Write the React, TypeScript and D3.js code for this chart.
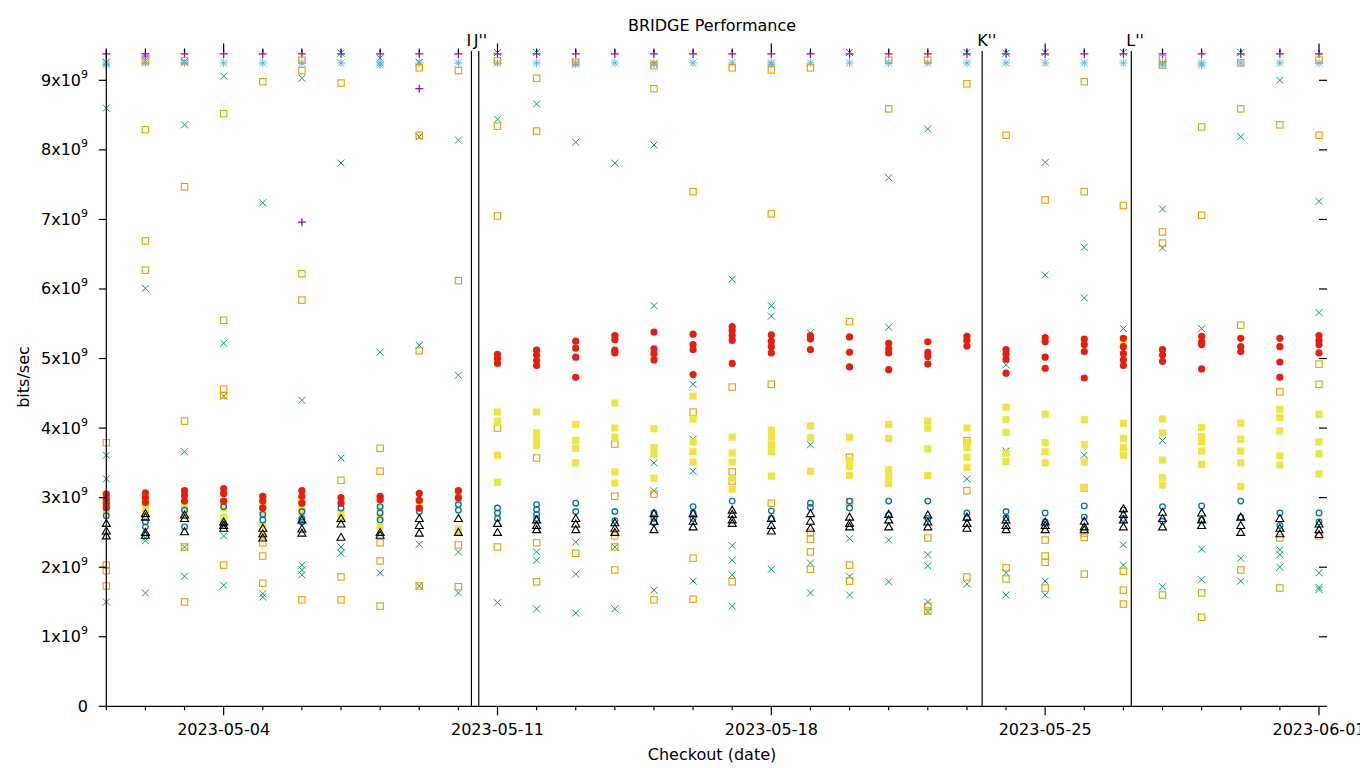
import React from 'react';
import * as d3 from 'd3';

// ---------- data (values in units of 1e9 bits/sec), one inner list per day 2023-05-01 .. 2023-06-01 ----------
const firstDay = '2023-05-01';
const lastDay = '2023-06-01';
const xTickLabels = ['2023-05-04', '2023-05-11', '2023-05-18', '2023-05-25', '2023-06-01'];
const yTickValues = [0, 1, 2, 3, 4, 5, 6, 7, 8, 9];
const eventNames = ['I', "J''", "K''", "L''"];
const eventTimes = ['2023-05-10T08:00', '2023-05-10T12:30', '2023-05-23T09:20', '2023-05-27T04:50'];

const purplePlus: number[][] = [
  [9.38], [9.38, 9.35], [9.38], [9.38], [9.38], [9.38, 6.96], [9.38], [9.38], [9.38, 8.88], [9.38],
  [9.38], [9.38], [9.38], [9.38], [9.38], [9.38], [9.38], [9.38], [9.38], [9.38],
  [9.38], [9.38], [9.38], [9.38], [9.38], [9.38], [9.38], [9.38], [9.38], [9.38], [9.38], [9.38],
];
const greenCross: number[][] = [
  [9.26, 8.6, 3.61, 3.27, 1.5], [9.28, 6.01, 2.42, 2.38, 1.63], [9.27, 8.36, 3.66, 2.29, 1.87], [9.06, 5.22, 4.46, 2.45, 1.74],
  [7.24, 1.62, 1.57], [9.03, 4.4, 2.03, 1.96, 1.89], [9.39, 7.81, 3.57, 2.29, 2.2], [9.32, 5.09, 1.92],
  [9.26, 8.19, 5.19, 2.33, 1.73], [8.14, 4.76, 2.22, 1.63], [9.4, 8.44, 1.49], [9.4, 8.66, 2.22, 2.1, 1.4],
  [8.11, 2.36, 1.9, 1.34], [7.81, 2.29, 1.4], [8.07, 5.76, 3.5, 3.1, 1.67], [4.63, 3.84, 3.38, 1.8],
  [6.14, 2.31, 2.1, 1.89, 1.44], [5.76, 5.61, 1.97], [5.37, 3.76, 2.06, 1.63], [9.4, 2.41, 1.87, 1.6],
  [7.6, 5.45, 2.39, 1.79], [8.3, 2.18, 2.02, 1.5, 1.36], [9.4, 3.27, 1.76], [9.39, 4.91, 3.67, 1.92, 1.6],
  [9.4, 7.82, 6.2, 1.8, 1.6], [6.6, 5.87, 3.61], [9.4, 5.43, 2.32, 2.03], [7.15, 6.59, 3.82, 1.72],
  [5.43, 2.26, 1.82], [9.4, 8.19, 2.13, 1.8], [9.0, 2.25, 2.18, 2.0], [7.26, 5.66, 1.92, 1.71, 1.68],
];
const blueStar: number[][] = [
  [9.25, 9.22], [9.25], [9.25], [9.25], [9.25], [9.25], [9.25], [9.25, 9.22], [9.25], [9.25],
  [9.25], [9.25], [9.25, 9.23], [9.25], [9.25, 9.23], [9.25], [9.25], [9.25, 9.23], [9.25], [9.25],
  [9.25], [9.25], [9.25], [9.25], [9.25], [9.25], [9.25], [9.25, 9.22], [9.25, 9.22], [9.25], [9.25], [9.25],
];
const orangeSquare: number[][] = [
  [3.79, 2.03, 1.95, 1.73], [9.28, 8.29, 6.69, 6.27], [9.28, 7.47, 4.1, 2.29, 1.5], [8.52, 5.55, 4.56, 4.47, 2.03],
  [8.98, 2.35, 2.16, 1.77], [9.29, 9.14, 6.22, 5.84, 1.53], [8.96, 3.25, 1.86, 1.53], [3.71, 3.38, 2.35, 2.09, 1.44],
  [9.18, 8.21, 5.11, 1.73], [9.14, 6.12, 2.32, 1.72], [9.28, 8.34, 7.05, 4.0, 2.29], [9.03, 8.27, 3.57, 2.35, 1.79],
  [9.26, 2.2], [3.77, 3.02, 2.45, 2.29, 1.96], [9.21, 8.88, 3.05, 1.53], [7.4, 4.23, 2.13, 1.54],
  [9.18, 4.59, 3.37, 3.24, 1.79], [9.15, 7.08, 4.63, 2.92], [9.18, 2.5, 2.4, 2.22, 1.97], [5.53, 3.58, 2.94, 2.03, 1.8],
  [9.29, 8.59], [9.29, 2.42, 1.44, 1.37], [8.95, 3.82, 3.1, 1.86], [8.21, 1.99, 1.83],
  [7.28, 2.39, 2.16, 2.07, 1.7], [8.98, 7.4, 3.14, 2.49, 2.43, 1.9], [7.2, 1.94, 1.67, 1.47], [9.31, 9.22, 6.82, 6.66, 1.6],
  [8.33, 7.06, 1.63, 1.28], [9.25, 8.59, 5.48, 1.96], [8.36, 4.52, 2.42, 1.7], [9.29, 8.21, 4.92, 4.63, 2.45],
];
const yellowSquare: number[][] = [
  [3.05, 2.95, 2.85, 2.78], [2.92, 2.85, 2.78], [2.95, 2.85, 2.76], [2.95, 2.85, 2.72, 2.6],
  [3.0, 2.9, 2.75, 2.6, 2.45], [2.98, 2.88, 2.8], [2.78, 2.7], [2.98, 2.85, 2.72, 2.58],
  [2.95, 2.85], [3.08, 2.96, 2.55, 2.5], [4.23, 4.1, 3.61, 3.22], [4.23, 3.93, 3.85, 3.75],
  [4.05, 3.82, 3.71, 3.5], [4.36, 4.0, 3.87, 3.37, 3.21], [3.99, 3.72, 3.62, 3.28], [4.46, 4.13, 3.8, 3.66, 3.51],
  [3.87, 3.64, 3.51, 3.27, 3.12], [3.97, 3.87, 3.76, 3.66, 3.31], [4.03, 3.86, 3.38], [3.87, 3.54, 3.45, 3.32],
  [4.05, 3.85, 3.4, 3.3, 3.2], [4.1, 4.0, 3.7, 3.32], [4.0, 3.8, 3.72, 3.58, 3.43], [4.3, 4.12, 3.94, 3.64, 3.52],
  [4.2, 3.79, 3.66, 3.5], [4.12, 3.76, 3.51, 3.15], [5.28, 5.2, 4.07, 3.85, 3.72, 3.61], [4.13, 3.93, 3.54, 3.29, 3.18],
  [4.01, 3.88, 3.8, 3.67, 3.48], [4.07, 3.84, 3.67, 3.5, 3.16], [4.27, 4.15, 3.96, 3.6, 3.47], [4.2, 3.8, 3.63, 3.34],
];
const blueCircle: number[][] = [
  [2.85, 2.74], [2.65, 2.58], [2.82, 2.58], [2.87, 2.62], [2.85, 2.76, 2.68], [2.8, 2.7, 2.65], [2.85], [2.87, 2.78, 2.68],
  [2.8], [2.9, 2.82], [2.85, 2.78, 2.7], [2.9, 2.83, 2.76, 2.7], [2.92, 2.8], [2.8, 2.67], [2.78, 2.7, 2.64], [2.87, 2.78, 2.7],
  [2.95], [2.81, 2.7], [2.92, 2.86], [2.95, 2.85], [2.95, 2.75], [2.95, 2.7], [2.78, 2.7], [2.8, 2.71],
  [2.78, 2.65], [2.88, 2.72], [2.82, 2.7], [2.87, 2.66], [2.88, 2.68], [2.95, 2.72], [2.78, 2.6], [2.78, 2.65],
];
const redCircle: number[][] = [
  [3.05, 2.98, 2.92, 2.86], [3.07, 3.0, 2.93], [3.1, 3.03, 2.95], [3.13, 3.06, 2.95], [3.02, 2.95, 2.85], [3.1, 3.02, 2.92],
  [3.0, 2.92], [3.02, 2.97], [3.06, 2.96, 2.85], [3.1, 3.0], [5.06, 5.0, 4.93], [5.12, 5.05, 4.97, 4.9],
  [5.25, 5.15, 5.02, 4.73], [5.33, 5.27, 5.12, 5.08], [5.38, 5.14, 5.07, 4.98], [5.35, 5.2, 5.13, 4.77],
  [5.46, 5.4, 5.33, 5.26, 4.93], [5.34, 5.25, 5.17, 5.08], [5.33, 5.28, 5.13], [5.31, 5.09, 4.88],
  [5.22, 5.14, 5.08, 4.84], [5.24, 5.09, 5.03, 4.92], [5.32, 5.26, 5.18], [5.13, 5.06, 4.99, 4.79],
  [5.3, 5.24, 5.02, 4.86], [5.28, 5.2, 5.1, 4.72], [5.29, 5.17, 5.07, 4.98, 4.9], [5.13, 5.05, 4.96],
  [5.32, 5.24, 5.2, 4.85], [5.29, 5.17, 5.1], [5.29, 5.17, 4.95, 4.73], [5.33, 5.26, 5.2, 5.08],
];
const blackTriangle: number[][] = [
  [2.63, 2.52, 2.45], [2.77, 2.72, 2.5, 2.46], [2.75, 2.7, 2.51], [2.65, 2.6, 2.56], [2.56, 2.48, 2.42], [2.68, 2.55, 2.49],
  [2.7, 2.62, 2.43], [2.5, 2.46], [2.7, 2.6, 2.49], [2.7, 2.5], [2.63, 2.5], [2.68, 2.6, 2.54],
  [2.7, 2.62, 2.54], [2.64, 2.56, 2.5], [2.77, 2.66, 2.54], [2.77, 2.66, 2.58], [2.82, 2.76, 2.68, 2.63], [2.7, 2.6, 2.52],
  [2.77, 2.66, 2.56], [2.72, 2.63, 2.58], [2.76, 2.68, 2.58], [2.75, 2.65, 2.58], [2.72, 2.63, 2.56], [2.68, 2.6, 2.54],
  [2.65, 2.6, 2.54], [2.66, 2.58, 2.54], [2.84, 2.76, 2.68, 2.58], [2.79, 2.7, 2.58], [2.78, 2.68, 2.6], [2.72, 2.6, 2.5],
  [2.7, 2.56, 2.48], [2.62, 2.54, 2.47],
];

type Shape = 'plus' | 'cross' | 'star' | 'osq' | 'fsq' | 'ocirc' | 'fcirc' | 'otri';
const seriesList: { color: string; shape: Shape; data: number[][] }[] = [
  { color: '#9400d3', shape: 'plus', data: purplePlus },
  { color: '#009e73', shape: 'cross', data: greenCross },
  { color: '#56b4e9', shape: 'star', data: blueStar },
  { color: '#e69f00', shape: 'osq', data: orangeSquare },
  { color: '#f0e442', shape: 'fsq', data: yellowSquare },
  { color: '#0072b2', shape: 'ocirc', data: blueCircle },
  { color: '#e51e10', shape: 'fcirc', data: redCircle },
  { color: '#000000', shape: 'otri', data: blackTriangle },
];

const W = 1360;
const H = 768;
const M = { left: 106.3, right: 1319, top: 52.5, bottom: 706.3 };
const FONT = 'DejaVu Sans, sans-serif';

function marker(shape: Shape, cx: number, cy: number, color: string, key: string) {
  const h = 3.5;
  switch (shape) {
    case 'plus':
      return <path key={key} d={`M${cx - 4},${cy}H${cx + 4}M${cx},${cy - 4}V${cy + 4}`} stroke={color} strokeWidth={1.2} fill="none" />;
    case 'cross':
      return <path key={key} d={`M${cx - h},${cy - h}L${cx + h},${cy + h}M${cx - h},${cy + h}L${cx + h},${cy - h}`} stroke={color} strokeWidth={1} fill="none" />;
    case 'star':
      return <path key={key} d={`M${cx - 4},${cy}H${cx + 4}M${cx},${cy - 4}V${cy + 4}M${cx - h},${cy - h}L${cx + h},${cy + h}M${cx - h},${cy + h}L${cx + h},${cy - h}`} stroke={color} strokeWidth={1} fill="none" />;
    case 'osq':
      return <rect key={key} x={cx - 3.2} y={cy - 3.2} width={6.4} height={6.4} stroke={color} strokeWidth={1.1} fill="none" />;
    case 'fsq':
      return <rect key={key} x={cx - 3.6} y={cy - 3.6} width={7.2} height={7.2} fill={color} />;
    case 'ocirc':
      return <circle key={key} cx={cx} cy={cy} r={2.8} stroke={color} strokeWidth={1.3} fill="none" />;
    case 'fcirc':
      return <circle key={key} cx={cx} cy={cy} r={3.6} fill={color} />;
    case 'otri':
      return <path key={key} d={`M${cx},${cy - 4}L${cx + 4},${cy + 3}L${cx - 4},${cy + 3}Z`} stroke={color} strokeWidth={1.1} fill="none" />;
  }
}

export default function App() {
  const parse = d3.utcParse('%Y-%m-%d');
  const parseT = d3.utcParse('%Y-%m-%dT%H:%M');
  const d0 = parse(firstDay) as Date;
  const d1 = parse(lastDay) as Date;
  const days = d3.utcDay.range(d0, d3.utcDay.offset(d1, 1));
  const x = d3.scaleUtc().domain([d0, d1]).range([M.left, M.right]);
  const y = d3.scaleLinear().domain([0, 9.4e9]).range([M.bottom, M.top]);
  const fmt = d3.utcFormat('%Y-%m-%d');
  const majorSet = new Set(xTickLabels);

  return (
    <svg width={W} height={H} style={{ position: 'absolute', left: 0, top: 0, background: '#fff' }} fontFamily={FONT}>
      <rect x={0} y={0} width={W} height={H} fill="#fff" />
      {/* points */}
      {seriesList.map((s, si) => (
        <g key={si}>
          {s.data.map((vals, di) =>
            vals.map((v, vi) => marker(s.shape, x(days[di]), y(v * 1e9), s.color, `${si}-${di}-${vi}`))
          )}
        </g>
      ))}
      {/* event lines */}
      {eventTimes.map((t, i) => {
        const xx = x(parseT(t) as Date);
        return (
          <g key={i}>
            <line x1={xx} x2={xx} y1={51} y2={M.bottom} stroke="#000" strokeWidth={1.2} />
            <text x={xx - 5} y={45.5} fontSize={16} fill="#000">{eventNames[i]}</text>
          </g>
        );
      })}
      {/* axes */}
      <g stroke="#000" strokeWidth={1.2} fill="none">
        <line x1={M.left} x2={M.left} y1={M.top} y2={M.bottom} />
        <line x1={M.left} x2={M.right} y1={M.bottom} y2={M.bottom} />
        {yTickValues.map((v) => (
          <g key={v}>
            <line x1={M.left - 7.5} x2={M.left} y1={y(v * 1e9)} y2={y(v * 1e9)} />
            <line x1={M.right} x2={M.right + 8} y1={y(v * 1e9)} y2={y(v * 1e9)} />
          </g>
        ))}
        {days.map((d, i) => {
          const major = majorSet.has(fmt(d));
          const len = major ? 9 : 4;
          const xx = x(d);
          return (
            <g key={i}>
              <line x1={xx} x2={xx} y1={M.bottom} y2={M.bottom + len} />
              <line x1={xx} x2={xx} y1={M.top} y2={M.top - len} />
            </g>
          );
        })}
      </g>
      {/* y tick labels */}
      {yTickValues.map((v) => (
        <text key={v} x={88} y={y(v * 1e9) + 5.5} fontSize={16} textAnchor="end" fill="#000">
          {v === 0 ? '0' : (
            <>
              {`${v}x10`}
              <tspan fontSize={11} dy={-8}>9</tspan>
            </>
          )}
        </text>
      ))}
      {/* x tick labels */}
      {xTickLabels.map((l) => (
        <text key={l} x={x(parse(l) as Date)} y={735} fontSize={16} textAnchor="middle" fill="#000">{l}</text>
      ))}
      {/* titles */}
      <text x={712} y={31} fontSize={16} textAnchor="middle" fill="#000">BRIDGE Performance</text>
      <text x={712} y={760} fontSize={16} textAnchor="middle" fill="#000">Checkout (date)</text>
      <text transform="translate(29,377) rotate(-90)" fontSize={16} textAnchor="middle" fill="#000">bits/sec</text>
    </svg>
  );
}
